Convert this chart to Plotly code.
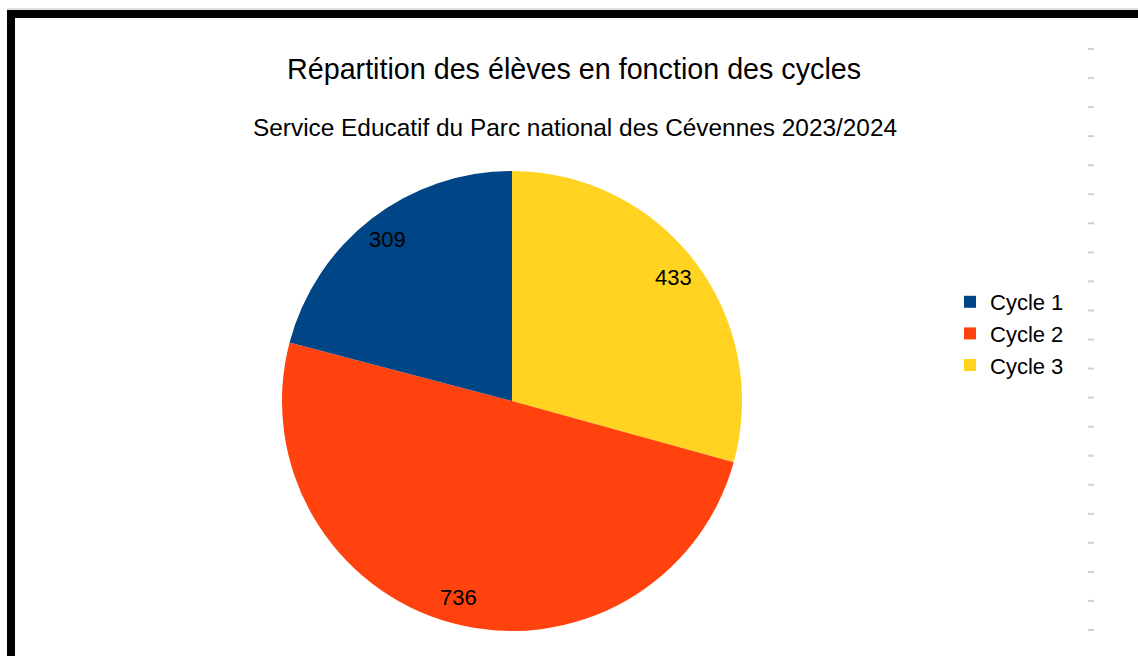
import math
import plotly.graph_objects as go

# Data
categories = ["Cycle 1", "Cycle 2", "Cycle 3"]
values = [309, 736, 433]
colors = ["#004586", "#ff420e", "#ffd320"]
title_text = "Répartition des élèves en fonction des cycles"
subtitle_text = "Service Educatif du Parc national des Cévennes 2023/2024"

W, H = 1138, 656
FONT = "Liberation Sans, Arial, sans-serif"

def px(x):
    return x / W

def py(y):
    return 1 - y / H

# pie geometry (pixels)
cx, cy, R = 512, 401, 230
dom_x = [px(cx - R), px(cx + R)]
dom_y = [py(cy + R), py(cy - R)]

# slices go counterclockwise from 12 o'clock: draw reversed list clockwise
fig = go.Figure(go.Pie(
    labels=categories[::-1],
    values=values[::-1],
    marker=dict(colors=colors[::-1], line=dict(width=0)),
    sort=False,
    direction="clockwise",
    rotation=0,
    textinfo="none",
    hoverinfo="label+value",
    domain=dict(x=dom_x, y=dom_y),
))

# value labels placed at mid-angle of each slice, near outer edge
total = sum(values)
cum = 0
annotations = []
for v in values:
    mid = (cum + v / 2) / total * 2 * math.pi
    cum += v
    lx = cx - 0.885 * R * math.sin(mid)
    ly = cy - 0.885 * R * math.cos(mid)
    annotations.append(dict(
        x=px(lx), y=py(ly), xref="paper", yref="paper",
        text=str(v), showarrow=False,
        font=dict(family=FONT, size=22, color="#000000"),
        xanchor="center", yanchor="middle",
    ))

annotations.append(dict(
    x=px(574), y=py(69), xref="paper", yref="paper", text=title_text,
    showarrow=False, xanchor="center", yanchor="middle",
    font=dict(family=FONT, size=28.7, color="#000000"),
))
annotations.append(dict(
    x=px(575), y=py(128), xref="paper", yref="paper", text=subtitle_text,
    showarrow=False, xanchor="center", yanchor="middle",
    font=dict(family=FONT, size=24.4, color="#000000"),
))

shapes = []
# frame (black border top and left)
shapes.append(dict(type="rect", xref="paper", yref="paper",
                   x0=px(7), x1=1.0, y0=py(18), y1=py(10),
                   fillcolor="#000000", line=dict(width=0)))
shapes.append(dict(type="rect", xref="paper", yref="paper",
                   x0=px(7), x1=px(15), y0=0, y1=py(10),
                   fillcolor="#000000", line=dict(width=0)))
shapes.append(dict(type="line", xref="paper", yref="paper",
                   x0=px(7), x1=1.0, y0=py(9), y1=py(9),
                   line=dict(color="#bbbbbb", width=1)))
# small ruler dashes on the right
for i in range(21):
    y = 49 + i * 29.05
    shapes.append(dict(type="line", xref="paper", yref="paper",
                       x0=px(1088), x1=px(1094), y0=py(y), y1=py(y),
                       line=dict(color="#d0d0d0", width=2)))

fig.update_layout(
    width=W, height=H,
    margin=dict(l=0, r=0, t=0, b=0),
    paper_bgcolor="white",
    plot_bgcolor="white",
    showlegend=True,
    legend=dict(
        x=px(950), y=py(281), xanchor="left", yanchor="top",
        font=dict(family=FONT, size=22, color="#000000"),
        itemwidth=30, tracegroupgap=0, bgcolor="rgba(0,0,0,0)",
        traceorder="reversed",
    ),
    annotations=annotations,
    shapes=shapes,
)

fig.write_html("out.html", config={"displayModeBar": False},
               post_script="document.body.style.margin='0px';")
